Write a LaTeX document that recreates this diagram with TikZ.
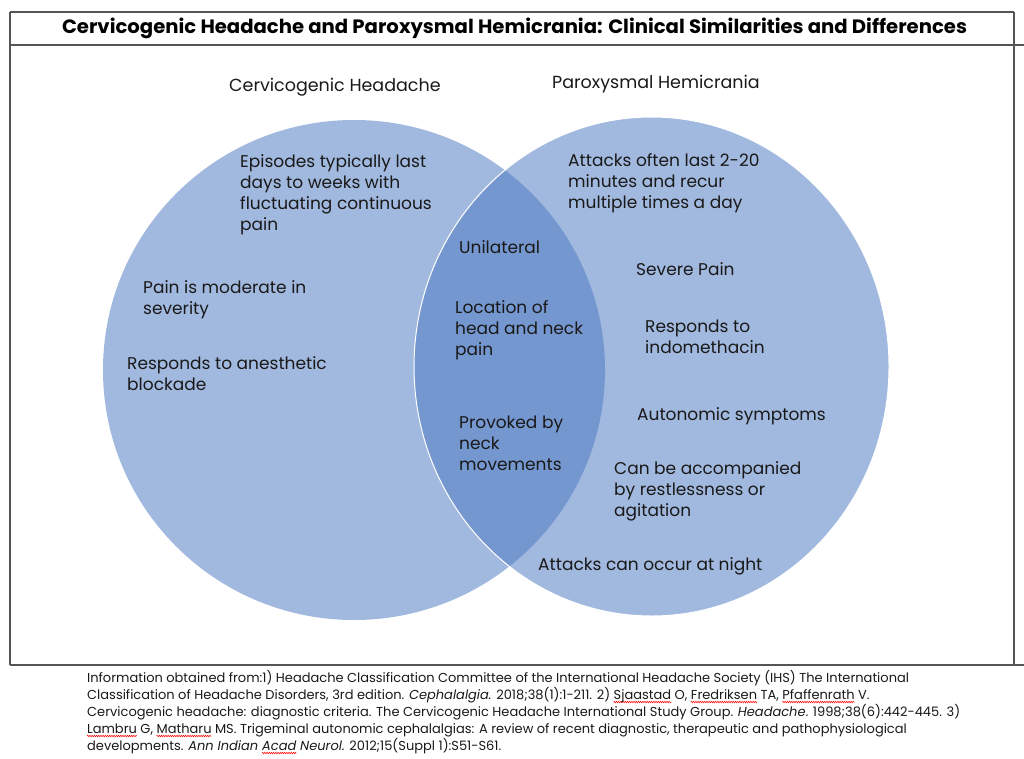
\documentclass[tikz,border=0pt]{standalone}
\usepackage{fontspec}
\usetikzlibrary{decorations.pathmorphing}
\setmainfont{Poppins}
\newfontfamily\reffont{Poppins}
\definecolor{circ}{RGB}{162,185,223}
\definecolor{lensc}{RGB}{117,151,207}
\definecolor{framec}{RGB}{85,85,85}
\definecolor{ink}{RGB}{25,25,25}
\newlength\wwid
\newcommand\redwave[1]{\settowidth\wwid{#1}\tikz[overlay,baseline=0pt]{\draw[red, line width=0.5pt, decorate, decoration={zigzag,amplitude=0.8pt,segment length=2.2pt}] (0pt,-3pt) -- (\the\wwid,-3pt);}#1}
\begin{document}
\begin{tikzpicture}[x=1pt,y=-1pt,
  lbl/.style={anchor=base west, align=left, inner sep=0pt, font=\fontsize{17}{21}\selectfont, text=ink},
  hdr/.style={anchor=base west, inner sep=0pt, font=\fontsize{17.5}{20}\selectfont, text=ink},
  frameline/.style={draw=framec, line width=1.3pt}]
\useasboundingbox (0,0) rectangle (1024,759);
% frame
\draw[frameline] (10,12) -- (1014,12);
\draw[frameline] (10,12) -- (10,665);
\draw[frameline] (1014,12) -- (1014,665);
\draw[frameline] (10,45) -- (1024,45);
\draw[frameline] (10,665) -- (1024,665);
% title
\node[anchor=base, inner sep=0pt, text=black] (title) at (514.5,34)
  {\resizebox{905pt}{15.5pt}{\bfseries Cervicogenic Headache and Paroxysmal Hemicrania: Clinical Similarities and Differences}};
% circles
\coordinate (cl) at (354,370);
\coordinate (cr) at (651.5,366.5);
\fill[circ] (cl) ellipse (251 and 250);
\fill[circ] (cr) ellipse (237.5 and 249.5);
\begin{scope}
  \clip (cl) ellipse (251 and 250);
  \fill[lensc] (cr) ellipse (237.5 and 249.5);
\end{scope}
\draw[white, line width=1pt] (cr) ellipse (237.5 and 249.5);
% headers
\node[hdr] (hl) at (229,92) {Cervicogenic Headache};
\node[hdr] (hr) at (552,89) {Paroxysmal Hemicrania};
% left (anchor = baseline of last line)
\node[lbl] (l1) at (240,231) {Episodes typically last\\days to weeks with\\fluctuating continuous\\pain};
\node[lbl] (l2) at (143,314) {Pain is moderate in\\severity};
\node[lbl] (l3) at (127,390) {Responds to anesthetic\\blockade};
% middle
\node[lbl] (m1) at (459,253) {Unilateral};
\node[lbl] (m2) at (455,355) {Location of\\head and neck\\pain};
\node[lbl] (m3) at (459,470) {Provoked by\\neck\\movements};
% right
\node[lbl] (r1) at (568,209) {Attacks often last 2-20\\minutes and recur\\multiple times a day};
\node[lbl] (r2) at (636,275) {Severe Pain};
\node[lbl] (r3) at (645,353) {Responds to\\indomethacin};
\node[lbl] (r4) at (637,420) {Autonomic symptoms};
\node[lbl] (r5) at (614,516) {Can be accompanied\\by restlessness or\\agitation};
\node[lbl] (r6) at (538,570) {Attacks can occur at night};
% references
\node[anchor=base west, align=left, inner sep=0pt, text=ink, font=\reffont\fontsize{13}{17}\selectfont] (refs) at (87,750)
{Information obtained from:1) Headache Classification Committee of the International Headache Society (IHS) The International\\
Classification of Headache Disorders, 3rd edition. \textit{Cephalalgia.} 2018;38(1):1-211. 2) \redwave{Sjaastad} O, \redwave{Fredriksen} TA, \redwave{Pfaffenrath} V.\\
Cervicogenic headache: diagnostic criteria. The Cervicogenic Headache International Study Group. \textit{Headache}. 1998;38(6):442-445. 3)\\
\redwave{Lambru} G, \redwave{Matharu} MS. Trigeminal autonomic cephalalgias: A review of recent diagnostic, therapeutic and pathophysiological\\
developments. \textit{Ann Indian \redwave{Acad} Neurol.} 2012;15(Suppl 1):S51-S61.};
\end{tikzpicture}
\end{document}
